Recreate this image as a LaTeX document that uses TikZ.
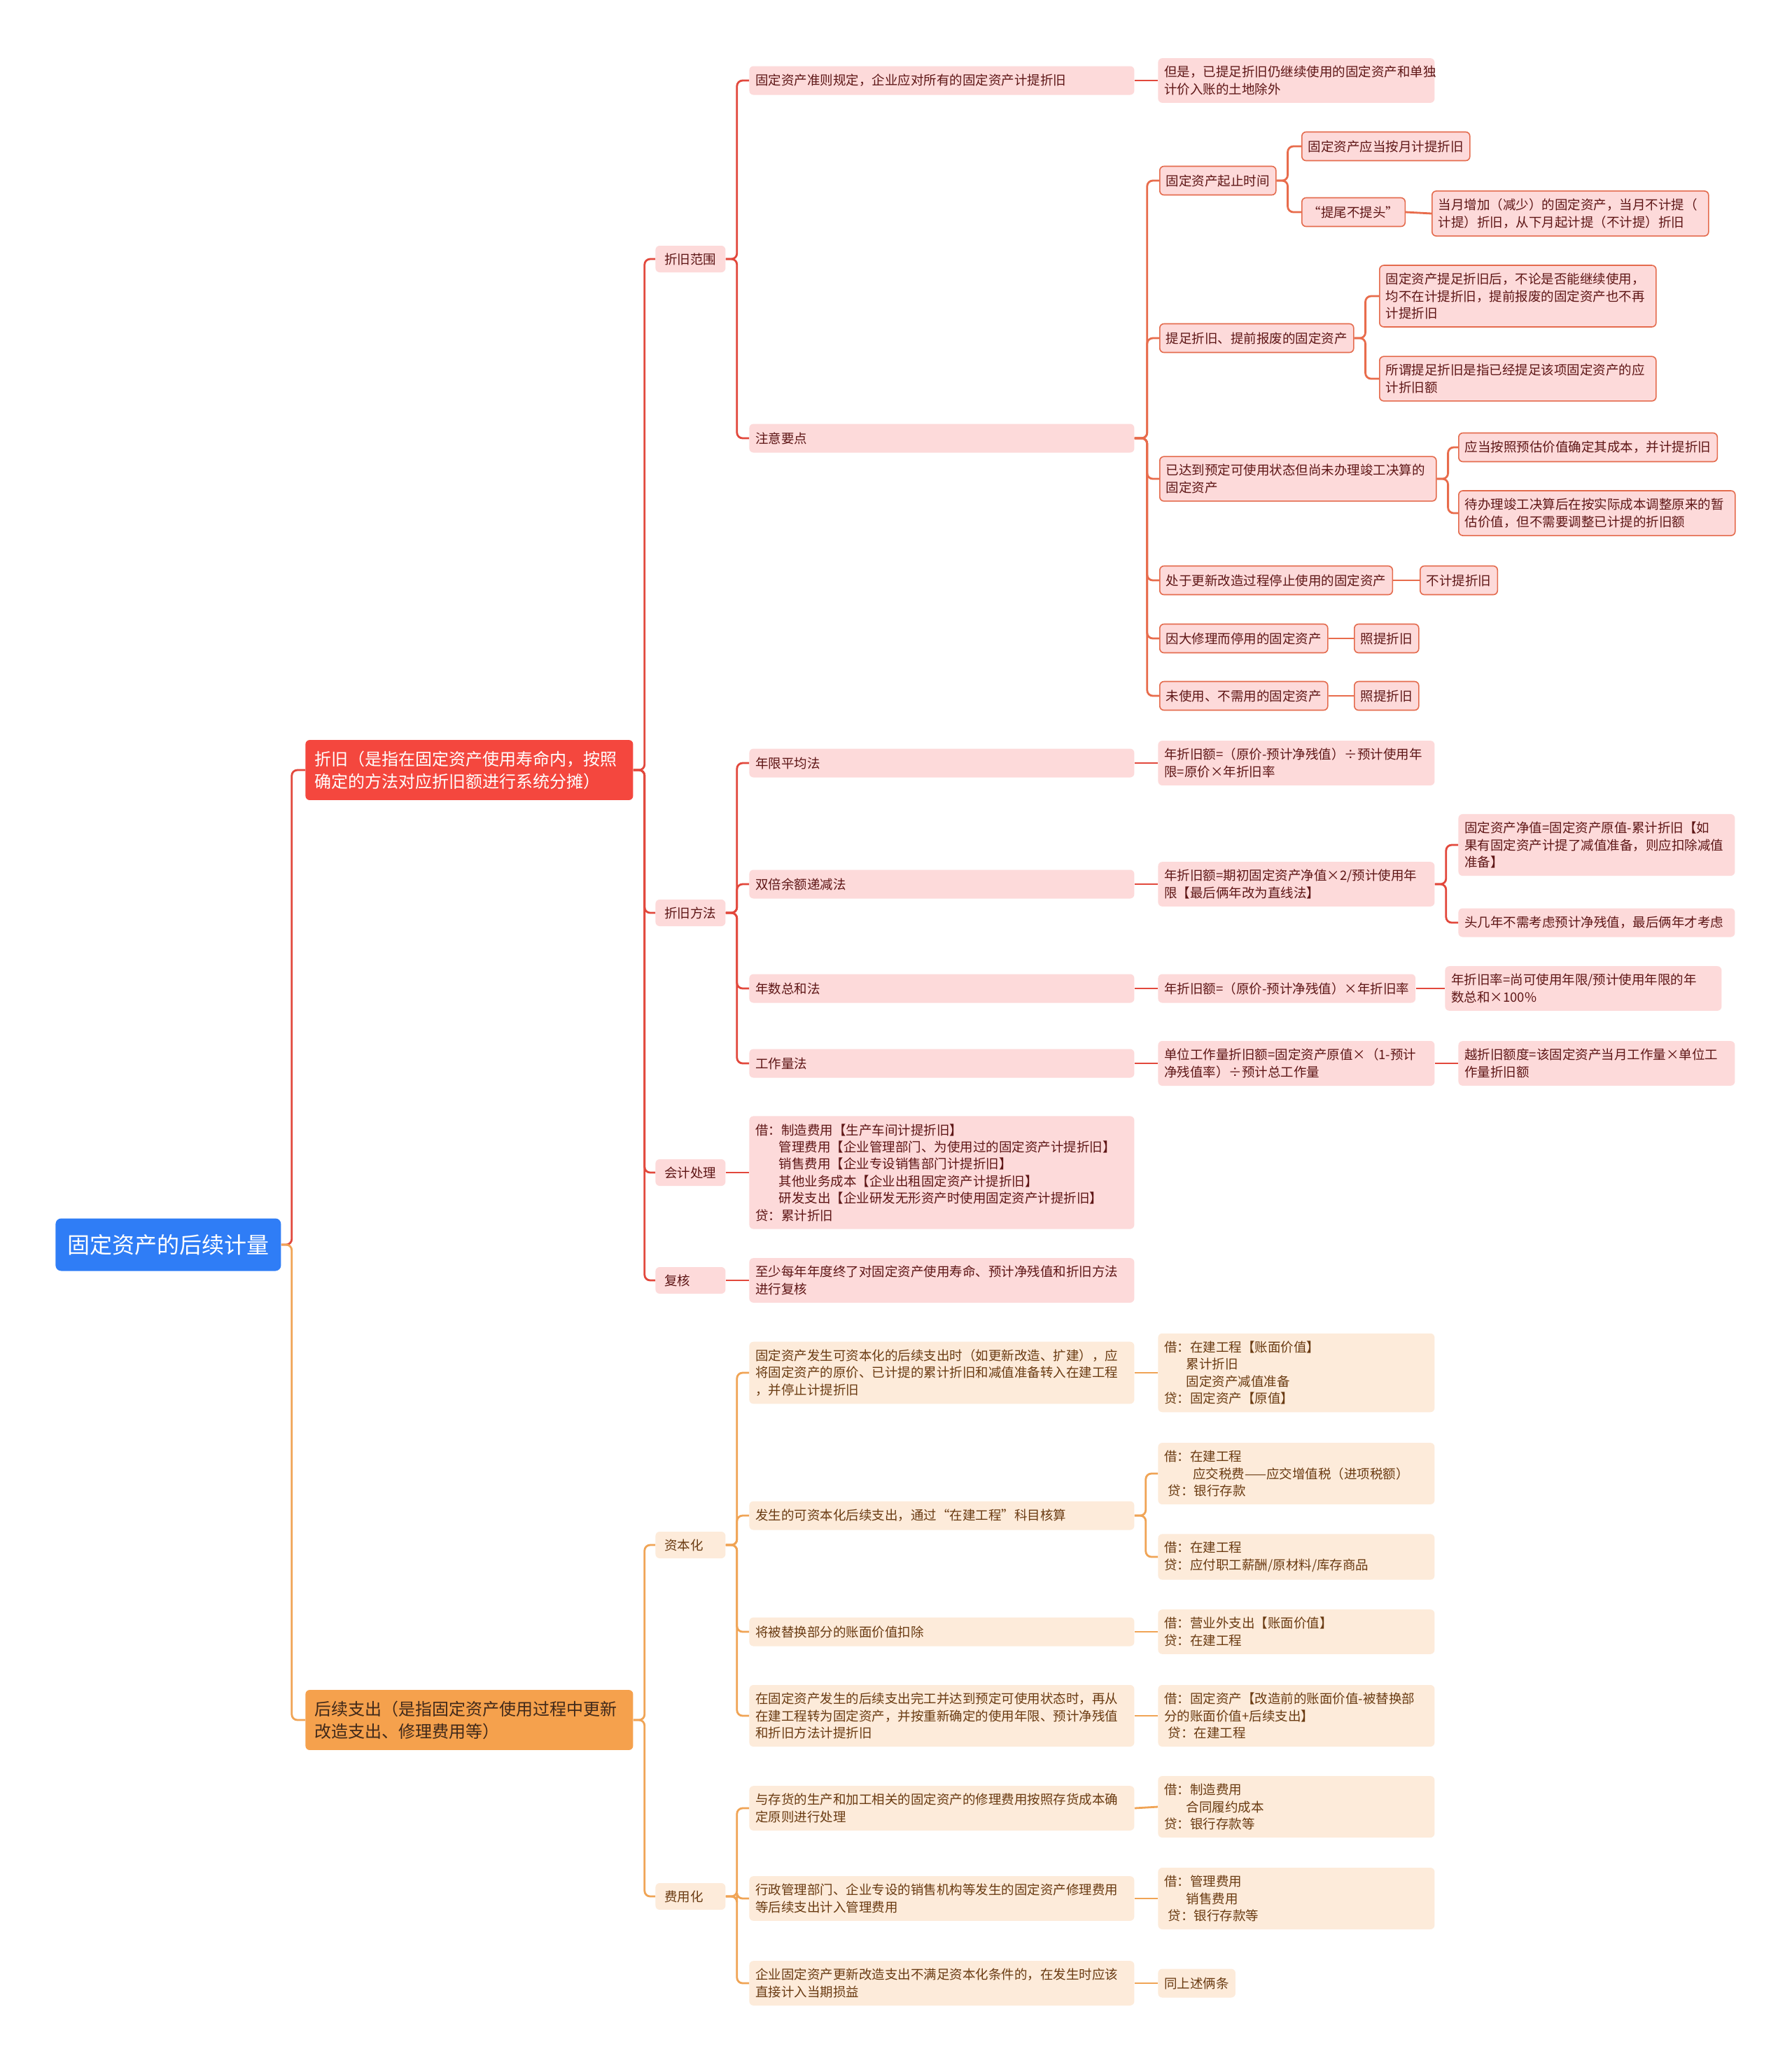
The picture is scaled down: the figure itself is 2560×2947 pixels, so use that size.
\documentclass[tikz,border=0pt]{standalone}
\usepackage{fontspec}
\setmainfont{Noto Sans CJK SC}
\usepackage{tikz}
\definecolor{rootblue}{HTML}{2F7DF6}
\definecolor{deprred}{HTML}{F4473E}
\definecolor{spendorange}{HTML}{F5A14D}
\definecolor{spendtext}{HTML}{40291A}
\definecolor{pinkfill}{HTML}{FDDADA}
\definecolor{pinktext}{HTML}{5E1616}
\definecolor{pinkedge}{HTML}{E46B4D}
\definecolor{peachfill}{HTML}{FDEBDA}
\definecolor{peachtext}{HTML}{6A3B12}
\definecolor{linered}{HTML}{E2483C}
\definecolor{linecoral}{HTML}{E86C4C}
\definecolor{lineorange}{HTML}{F0A455}

\begin{document}
\begin{tikzpicture}[x=0.5pt, y=-0.5pt,
    every node/.style={font=\fontsize{9.25pt}{12.2pt}\selectfont, anchor=west, align=left,
        inner xsep=4.5pt, inner ysep=5.5pt, minimum height=20.5pt, rounded corners=3pt},
    root/.style={fill=rootblue, text=white, font=\fontsize{16pt}{20pt}\selectfont,
        inner xsep=8.5pt, minimum height=37.5pt, rounded corners=4pt},
    mainred/.style={fill=deprred, text=white, font=\fontsize{12pt}{16pt}\selectfont,
        text width=221pt, inner xsep=6.5pt, inner ysep=7.75pt},
    mainorange/.style={mainred, fill=spendorange, text=spendtext},
    tag/.style={text width=37pt, inner xsep=6.5pt, minimum height=19pt, inner ysep=4pt},
    wide/.style={text width=266pt},
    mid/.style={text width=188.5pt},
    pk/.style={fill=pinkfill, text=pinktext},
    pkb/.style={pk, draw=pinkedge, line width=0.8pt},
    pe/.style={fill=peachfill, text=peachtext},
    lkred/.style={draw=linered, line width=1.4pt, rounded corners=4pt},
    lkcoral/.style={draw=linecoral, line width=1.4pt, rounded corners=4pt},
    lkorange/.style={draw=lineorange, line width=1.4pt, rounded corners=4pt}]

\path[use as bounding box, fill=white] (0,0) rectangle (2560,2947);

% Root
\node[root] (root) at (79,1778) {固定资产的后续计量};

% Main branches
\node[mainred] (zj) at (436,1100) {折旧（是指在固定资产使用寿命内，按照\\确定的方法对应折旧额进行系统分摊）};
\node[mainorange] (hx) at (436,2457) {后续支出（是指固定资产使用过程中更新\\改造支出、修理费用等）};

% Second level
\node[tag, pk] (zjfw) at (936,370)  {折旧范围};
\node[tag, pk] (zjff) at (936,1304) {折旧方法};
\node[tag, pk] (kjcl) at (936,1675) {会计处理};
\node[tag, pk] (fh)   at (936,1829) {复核};
\node[tag, pe] (zbh)  at (936,2207) {资本化};
\node[tag, pe] (fyh)  at (936,2709) {费用化};

% Depreciation scope
\node[wide, pk] (gzzz) at (1070,115) {固定资产准则规定，企业应对所有的固定资产计提折旧};
\node[mid, pk]  (dsyt) at (1654,115) {但是，已提足折旧仍继续使用的固定资产和单独\\计价入账的土地除外};
\node[wide, pk] (zyyd) at (1070,626) {注意要点};

\node[pkb] (qzsj) at (1656,258) {固定资产起止时间};
\node[pkb] (aytz) at (1859,209) {固定资产应当按月计提折旧};
\node[pkb] (twbt) at (1859,303) {“提尾不提头”};
\node[pkb, mid] (dyzj) at (2045,305) {当月增加（减少）的固定资产，当月不计提（\\计提）折旧，从下月起计提（不计提）折旧};

\node[pkb] (tzbf) at (1656,483) {提足折旧、提前报废的固定资产};
\node[pkb, mid] (tzh)  at (1970,423) {固定资产提足折旧后，不论是否能继续使用，\\均不在计提折旧，提前报废的固定资产也不再\\计提折旧};
\node[pkb, mid] (swtz) at (1970,541) {所谓提足折旧是指已经提足该项固定资产的应\\计折旧额};

\node[pkb, mid] (ydsy) at (1656,684) {已达到预定可使用状态但尚未办理竣工决算的\\固定资产};
\node[pkb] (ygaz) at (2083,639) {应当按照预估价值确定其成本，并计提折旧};
\node[pkb, mid] (dbl) at (2083,733) {待办理竣工决算后在按实际成本调整原来的暂\\估价值，但不需要调整已计提的折旧额};

\node[pkb] (gzgc) at (1656,829) {处于更新改造过程停止使用的固定资产};
\node[pkb] (bjtz) at (2028,829) {不计提折旧};
\node[pkb] (dxl)  at (1656,912) {因大修理而停用的固定资产};
\node[pkb] (ztza) at (1934,912) {照提折旧};
\node[pkb] (wsy)  at (1656,994) {未使用、不需用的固定资产};
\node[pkb] (ztzb) at (1934,994) {照提折旧};

% Depreciation methods
\node[wide, pk] (nxpj) at (1070,1090) {年限平均法};
\node[mid, pk]  (nxgs) at (1654,1090) {年折旧额=（原价-预计净残值）÷预计使用年\\限=原价×年折旧率};
\node[wide, pk] (sbye) at (1070,1263) {双倍余额递减法};
\node[mid, pk]  (sbgs) at (1654,1263) {年折旧额=期初固定资产净值×2/预计使用年\\限【最后俩年改为直线法】};
\node[mid, pk]  (jz)   at (2083,1207) {固定资产净值=固定资产原值-累计折旧【如\\果有固定资产计提了减值准备，则应扣除减值\\准备】};
\node[mid, pk]  (tjn)  at (2083,1318) {头几年不需考虑预计净残值，最后俩年才考虑};
\node[wide, pk] (nszh) at (1070,1412) {年数总和法};
\node[pk]       (nsgs) at (1654,1412) {年折旧额=（原价-预计净残值）×年折旧率};
\node[mid, pk]  (zjl)  at (2064,1412) {年折旧率=尚可使用年限/预计使用年限的年\\数总和×100\%};
\node[wide, pk] (gzl)  at (1070,1519) {工作量法};
\node[mid, pk]  (gzgs) at (1654,1519) {单位工作量折旧额=固定资产原值×（1-预计\\净残值率）÷预计总工作量};
\node[mid, pk]  (ydzj) at (2083,1519) {越折旧额度=该固定资产当月工作量×单位工\\作量折旧额};

% Accounting and review
\node[wide, pk] (kjbox) at (1070,1675) {借：制造费用【生产车间计提折旧】\\
  \hspace*{1.8em}管理费用【企业管理部门、为使用过的固定资产计提折旧】\\
  \hspace*{1.8em}销售费用【企业专设销售部门计提折旧】\\
  \hspace*{1.8em}其他业务成本【企业出租固定资产计提折旧】\\
  \hspace*{1.8em}研发支出【企业研发无形资产时使用固定资产计提折旧】\\
  贷：累计折旧};
\node[wide, pk] (fhbox) at (1070,1829) {至少每年年度终了对固定资产使用寿命、预计净残值和折旧方法\\进行复核};

% Capitalised spending
\node[wide, pe] (zbha) at (1070,1961) {固定资产发生可资本化的后续支出时（如更新改造、扩建），应\\将固定资产的原价、已计提的累计折旧和减值准备转入在建工程\\，并停止计提折旧};
\node[mid, pe]  (fla)  at (1654,1961) {借：在建工程【账面价值】\\\hspace*{1.7em}累计折旧\\\hspace*{1.7em}固定资产减值准备\\贷：固定资产【原值】};
\node[wide, pe] (zbhb) at (1070,2165) {发生的可资本化后续支出，通过“在建工程”科目核算};
\node[mid, pe]  (flb)  at (1654,2105) {借：在建工程\\\hspace*{2.2em}应交税费——应交增值税（进项税额）\\\hspace*{0.3em}贷：银行存款};
\node[mid, pe]  (flc)  at (1654,2224) {借：在建工程\\贷：应付职工薪酬/原材料/库存商品};
\node[wide, pe] (zbhc) at (1070,2331) {将被替换部分的账面价值扣除};
\node[mid, pe]  (fld)  at (1654,2331) {借：营业外支出【账面价值】\\贷：在建工程};
\node[wide, pe] (zbhd) at (1070,2451) {在固定资产发生的后续支出完工并达到预定可使用状态时，再从\\在建工程转为固定资产，并按重新确定的使用年限、预计净残值\\和折旧方法计提折旧};
\node[mid, pe]  (fle)  at (1654,2451) {借：固定资产【改造前的账面价值-被替换部\\分的账面价值+后续支出】\\\hspace*{0.3em}贷：在建工程};

% Expensed spending
\node[wide, pe] (fyha) at (1070,2583) {与存货的生产和加工相关的固定资产的修理费用按照存货成本确\\定原则进行处理};
\node[mid, pe]  (flf)  at (1654,2581) {借：制造费用\\\hspace*{1.7em}合同履约成本\\贷：银行存款等};
\node[wide, pe] (fyhb) at (1070,2712) {行政管理部门、企业专设的销售机构等发生的固定资产修理费用\\等后续支出计入管理费用};
\node[mid, pe]  (flg)  at (1654,2712) {借：管理费用\\\hspace*{1.7em}销售费用\\\hspace*{0.3em}贷：银行存款等};
\node[wide, pe] (fyhc) at (1070,2833) {企业固定资产更新改造支出不满足资本化条件的，在发生时应该\\直接计入当期损益};
\node[pe]       (flh)  at (1654,2833) {同上述俩条};

% Root links
\draw[lkred] (root.east) -- ++(15,0) |- (zj.west);
\draw[lkorange] (root.east) -- ++(15,0) |- (hx.west);

% Depreciation links
\draw[lkred] (zj.east) -- ++(16,0) |- (zjfw.west);
\draw[lkred] (zj.east) -- ++(16,0) |- (zjff.west);
\draw[lkred] (zj.east) -- ++(16,0) |- (kjcl.west);
\draw[lkred] (zj.east) -- ++(16,0) |- (fh.west);

\draw[lkred] (zjfw.east) -- ++(16,0) |- (gzzz.west);
\draw[lkred] (zjfw.east) -- ++(16,0) |- (zyyd.west);
\draw[lkred] (gzzz.east) -- (dsyt.west);

\draw[lkcoral] (zyyd.east) -- ++(18,0) |- (qzsj.west);
\draw[lkcoral] (zyyd.east) -- ++(18,0) |- (tzbf.west);
\draw[lkcoral] (zyyd.east) -- ++(18,0) |- (ydsy.west);
\draw[lkcoral] (zyyd.east) -- ++(18,0) |- (gzgc.west);
\draw[lkcoral] (zyyd.east) -- ++(18,0) |- (dxl.west);
\draw[lkcoral] (zyyd.east) -- ++(18,0) |- (wsy.west);

\draw[lkcoral] (qzsj.east) -- ++(16,0) |- (aytz.west);
\draw[lkcoral] (qzsj.east) -- ++(16,0) |- (twbt.west);
\draw[lkcoral] (twbt.east) -- (dyzj.west);
\draw[lkcoral] (tzbf.east) -- ++(16,0) |- (tzh.west);
\draw[lkcoral] (tzbf.east) -- ++(16,0) |- (swtz.west);
\draw[lkcoral] (ydsy.east) -- ++(16,0) |- (ygaz.west);
\draw[lkcoral] (ydsy.east) -- ++(16,0) |- (dbl.west);
\draw[lkcoral] (gzgc.east) -- (bjtz.west);
\draw[lkcoral] (dxl.east) -- (ztza.west);
\draw[lkcoral] (wsy.east) -- (ztzb.west);

\draw[lkred] (zjff.east) -- ++(16,0) |- (nxpj.west);
\draw[lkred] (zjff.east) -- ++(16,0) |- (sbye.west);
\draw[lkred] (zjff.east) -- ++(16,0) |- (nszh.west);
\draw[lkred] (zjff.east) -- ++(16,0) |- (gzl.west);
\draw[lkred] (nxpj.east) -- (nxgs.west);
\draw[lkred] (sbye.east) -- (sbgs.west);
\draw[lkred] (sbgs.east) -- ++(16,0) |- (jz.west);
\draw[lkred] (sbgs.east) -- ++(16,0) |- (tjn.west);
\draw[lkred] (nszh.east) -- (nsgs.west);
\draw[lkred] (nsgs.east) -- (zjl.west);
\draw[lkred] (gzl.east) -- (gzgs.west);
\draw[lkred] (gzgs.east) -- (ydzj.west);

\draw[lkred] (kjcl.east) -- (kjbox.west);
\draw[lkred] (fh.east) -- (fhbox.west);

% Subsequent spending links
\draw[lkorange] (hx.east) -- ++(16,0) |- (zbh.west);
\draw[lkorange] (hx.east) -- ++(16,0) |- (fyh.west);

\draw[lkorange] (zbh.east) -- ++(16,0) |- (zbha.west);
\draw[lkorange] (zbh.east) -- ++(16,0) |- (zbhb.west);
\draw[lkorange] (zbh.east) -- ++(16,0) |- (zbhc.west);
\draw[lkorange] (zbh.east) -- ++(16,0) |- (zbhd.west);
\draw[lkorange] (zbha.east) -- (fla.west);
\draw[lkorange] (zbhb.east) -- ++(16,0) |- (flb.west);
\draw[lkorange] (zbhb.east) -- ++(16,0) |- (flc.west);
\draw[lkorange] (zbhc.east) -- (fld.west);
\draw[lkorange] (zbhd.east) -- (fle.west);

\draw[lkorange] (fyh.east) -- ++(16,0) |- (fyha.west);
\draw[lkorange] (fyh.east) -- ++(16,0) |- (fyhb.west);
\draw[lkorange] (fyh.east) -- ++(16,0) |- (fyhc.west);
\draw[lkorange] (fyha.east) -- (flf.west);
\draw[lkorange] (fyhb.east) -- (flg.west);
\draw[lkorange] (fyhc.east) -- (flh.west);

\end{tikzpicture}
\end{document}
